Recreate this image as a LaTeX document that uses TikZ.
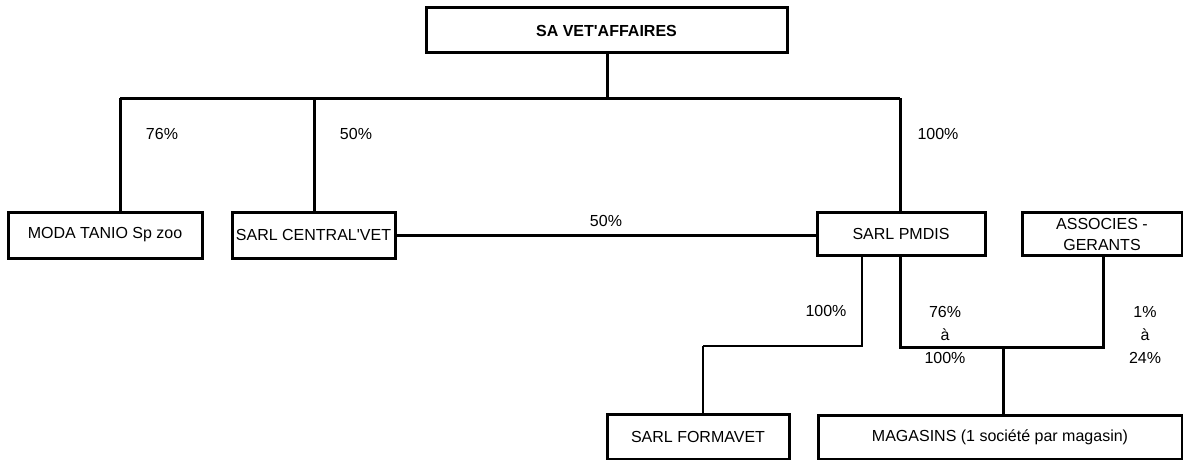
\documentclass[tikz,border=0pt]{standalone}
\usepackage{fontspec}
\setmainfont{Liberation Sans}
\begin{document}
\begin{tikzpicture}[x=1pt,y=-1pt,
  every node/.style={font=\fontsize{16}{23}\selectfont, inner sep=0pt},
  box/.style={draw, line width=3pt, align=center},
  thick line/.style={line width=3pt},
  thin line/.style={line width=1.1pt},
  pct/.style={align=center}]
\useasboundingbox (0,0) rectangle (1183,460);
% boxes
\node[box, minimum width=361pt, minimum height=45pt, font=\fontsize{16}{18}\selectfont\bfseries] (top) at (606.5,30.5) {SA VET\textquotesingle AFFAIRES};
\node[box, minimum width=194pt, minimum height=46pt] (moda) at (105,235) {MODA TANIO Sp zoo};
\node[box, minimum width=163pt, minimum height=46pt] (central) at (313.5,235) {SARL CENTRAL\textquotesingle VET};
\node[box, minimum width=168pt, minimum height=43pt] (pmdis) at (901,234) {SARL PMDIS};
\node[box, minimum width=160pt, minimum height=43pt, font=\fontsize{16}{21}\selectfont] (assoc) at (1102,234) {ASSOCIES -\\GERANTS};
\node[box, minimum width=182pt, minimum height=45pt] (forma) at (698,436.5) {SARL FORMAVET};
\node[box, minimum width=364pt, minimum height=44pt] (maga) at (1000,437) {MAGASINS (1 société par magasin)};
% junctions
\coordinate (j) at (607,98);
\coordinate (bl) at (120,98);
\coordinate (bc) at (314,98);
\coordinate (br) at (900,98);
\coordinate (t1) at (862,346);
\coordinate (t2) at (703,346);
\coordinate (m1) at (900,347);
\coordinate (m2) at (1103,347);
\coordinate (m3) at (1003,347);
% connectors
\draw[thick line] (top.south -| j) -- (j);
\draw[thick line] (bl) -- (br);
\draw[thick line] (bl) -- (bl |- moda.north);
\draw[thick line] (bc) -- (bc |- central.north);
\draw[thick line] (br) -- (br |- pmdis.north);
\draw[thick line] (central.east) -- (central.east -| pmdis.west);
\draw[thin line] (t1 |- pmdis.south) -- (t1) -- (t2);
\draw[line width=2pt] (t2) -- (t2 |- forma.north);
\draw[thick line] (m1 |- pmdis.south) -- (m1) -- (m2) -- (m2 |- assoc.south);
\draw[thick line] (m3) -- (m3 |- maga.north);
% labels
\node[pct] (l1) at (162,134) {76\%};
\node[pct] (l2) at (356,134) {50\%};
\node[pct] (l3) at (938,134) {100\%};
\node[pct] (l4) at (606,221) {50\%};
\node[pct] (l5) at (826,311) {100\%};
\node[pct] (l6) at (945,335) {76\%\\à\\100\%};
\node[pct] (l7) at (1145,335) {1\%\\à\\24\%};
\end{tikzpicture}
\end{document}
